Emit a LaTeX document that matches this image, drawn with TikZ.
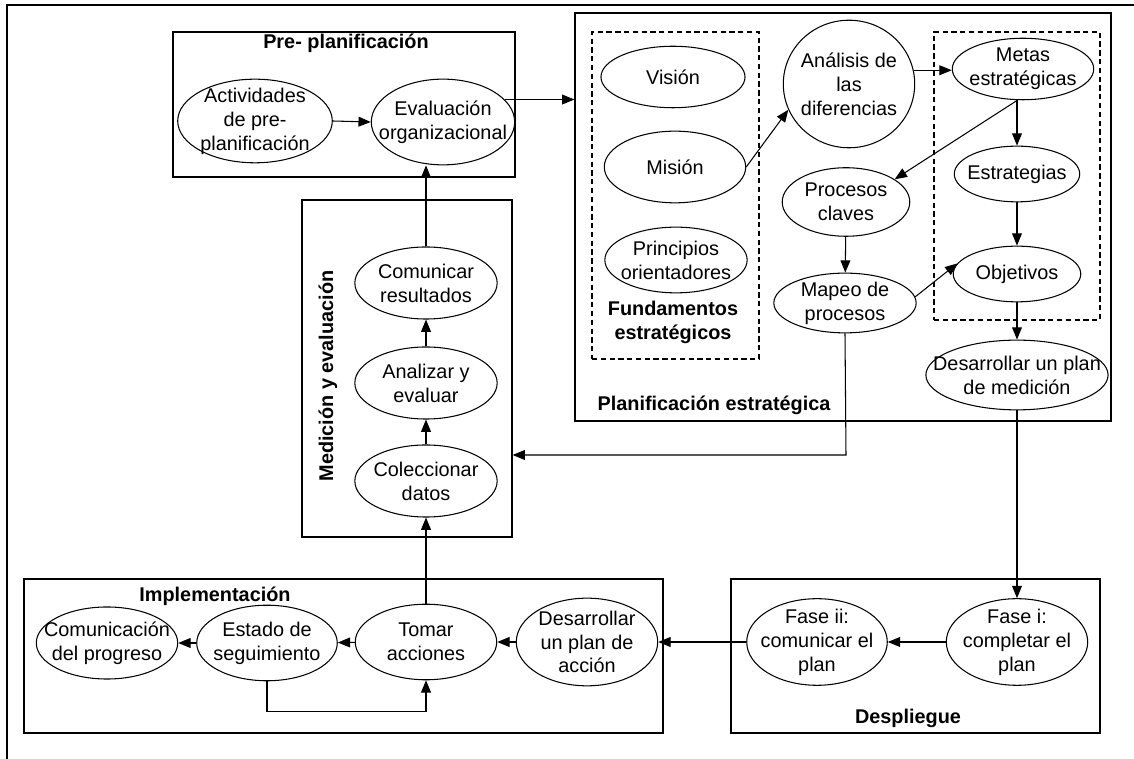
\documentclass[tikz,border=0pt]{standalone}
\usepackage{fontspec}
\setmainfont{Liberation Sans}
\usetikzlibrary{shapes.geometric,arrows.meta,fit}

\begin{document}
\begin{tikzpicture}[x=0.02cm,y=-0.02cm,
    elip/.style={ellipse,draw,line width=0.6pt,inner sep=-40pt,minimum width=81pt,minimum height=41pt,align=center,font=\fontsize{11.3}{13.6}\selectfont},
    caja/.style={draw,line width=0.7pt,inner sep=0pt},
    grupo/.style={draw,line width=0.6pt,dash pattern=on 3pt off 2pt,inner sep=0pt},
    titulo/.style={font=\fontsize{11.3}{13.6}\selectfont\bfseries,align=center,inner sep=0pt},
    flecha/.style={line width=0.6pt,-{Triangle[length=7pt,width=5.6pt]}}]
        \useasboundingbox (0,0) rectangle (1134,759);
        \draw[line width=0.7pt] (7,759) -- (7,5) -- (1134,5);

        % cajas
        \node[caja,fit={(173,32) (515,177)}] (pre) {};
        \node[caja,fit={(575,13) (1111,421)}] (plan) {};
        \node[grupo,fit={(592,32) (759,359)}] (fund) {};
        \node[grupo,fit={(934,32) (1100,320)}] (metbox) {};
        \node[caja,fit={(302,200) (512,537)}] (med) {};
        \node[caja,fit={(24,579) (663,733)}] (impl) {};
        \node[caja,fit={(731,579) (1100,733)}] (desp) {};

        \node[titulo] (tpre) at (346,43) {Pre- planificación};
        \node[titulo] (tplan) at (714,405) {Planificación estratégica};
        \node[titulo] (tfund) at (673,322) {Fundamentos\\estratégicos};
        \node[titulo,rotate=90] (tmed) at (328,376) {Medición y evaluación};
        \node[titulo] (timpl) at (215,596) {Implementación};
        \node[titulo] (tdesp) at (908,718) {Despliegue};

        % pre-planificacion
        \node[elip,minimum width=88pt,minimum height=47.6pt] (act) at (255,121) {Actividades\\de pre-\\planificación};
        \node[elip,minimum width=81.6pt,minimum height=48.8pt] (eval) at (443,122) {Evaluación\\organizacional};

        % planificacion
        \node[elip,minimum width=82pt,minimum height=35pt] (vis) at (673,77) {Visión};
        \node[elip,minimum width=80.5pt,minimum height=40.8pt] (mis) at (675,167) {Misión};
        \node[elip,minimum height=37.4pt] (prin) at (676,260) {Principios\\orientadores};
        \node[elip,minimum width=74.8pt,minimum height=72.6pt] (ana) at (849,84) {Análisis de\\las\\diferencias};
        \node[elip,minimum width=80.5pt,minimum height=35pt] (metas) at (1023,69) {Metas\\estratégicas};
        \node[elip,minimum width=71.4pt,minimum height=31.7pt] (estr) at (1017,174) {Estrategias};
        \node[elip,minimum width=72.6pt,minimum height=31.7pt] (obj) at (1017,274) {Objetivos};
        \node[elip,minimum width=103.7pt,minimum height=39.7pt] (desmed) at (1017,375) {Desarrollar un plan\\de medición};
        \node[elip,minimum width=72.6pt,minimum height=39pt] (proc) at (846,202) {Procesos\\claves};
        \node[elip,minimum height=34pt] (mapeo) at (845,303) {Mapeo de\\procesos};

        % medicion
        \node[elip] (comr) at (426,283) {Comunicar\\resultados};
        \node[elip] (anal) at (426,383) {Analizar y\\evaluar};
        \node[elip] (col) at (426,481) {Coleccionar\\datos};

        % despliegue e implementacion
        \node[elip,minimum width=80.5pt,minimum height=49.3pt] (fasei) at (1017,642) {Fase i:\\completar el\\plan};
        \node[elip,minimum width=80pt,minimum height=49.3pt] (faseii) at (817,642) {Fase ii:\\comunicar el\\plan};
        \node[elip,minimum width=80.5pt,minimum height=49.9pt] (desacc) at (587,642) {Desarrollar\\un plan de\\acción};
        \node[elip,minimum width=80.5pt,minimum height=43pt] (tomar) at (426,642) {Tomar\\acciones};
        \node[elip,minimum width=80pt,minimum height=43pt] (estado) at (267,643) {Estado de\\seguimiento};
        \node[elip,minimum width=80.5pt] (comp) at (107,643) {Comunicación\\del progreso};

        \coordinate (m1) at (846,455);

        \draw[flecha] (act.east) -- (eval.west);
        \draw[flecha] (eval.20) -- (eval.20 -| plan.west);
        \draw[flecha] (comr.north) -- (comr.north |- eval.south);
        \draw[flecha] (anal) -- (comr);
        \draw[flecha] (col) -- (anal);
        \draw[flecha] (mis.east) -- (ana.203);
        \draw[flecha] (ana.12) -- (ana.12 -| metas.west);
        \draw[flecha] (metas.260) -- (proc.25);
        \draw[flecha] (estr.north |- metas.south) -- (estr.north);
        \draw[flecha] (estr) -- (obj);
        \draw[flecha] (obj) -- (desmed);
        \draw[flecha] (proc) -- (mapeo);
        \draw[flecha] (mapeo.5) -- (obj.170);
        \draw[flecha] (mapeo.south) -- (m1) -- (m1 -| med.east);
        \draw[flecha] (desmed) -- (fasei);
        \draw[flecha] (fasei) -- (faseii);
        \draw[flecha] (faseii) -- (desacc);
        \draw[flecha] (desacc) -- (tomar);
        \draw[flecha] (tomar) -- (estado);
        \draw[flecha] (estado) -- (comp);
        \draw[flecha] (tomar) -- (col);
        \draw[flecha] (estado.south) -- ++(0,30) -| (tomar.south);
\end{tikzpicture}
\end{document}
